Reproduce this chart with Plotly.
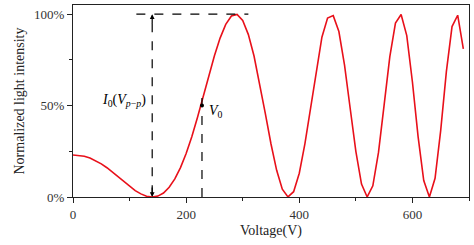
import plotly.graph_objects as go

voltage = [0, 10, 20, 30, 40, 50, 60, 70, 80, 90, 100, 110, 120, 130, 140, 150, 160, 170, 180, 190,
           200, 210, 220, 230, 240, 250, 260, 270, 280, 290, 300, 310, 320, 330, 340, 350, 360, 370,
           380, 390, 400, 410, 420, 430, 440, 450, 460, 470, 480, 490, 500, 510, 520, 530, 540, 550,
           560, 570, 580, 590, 600, 610, 620, 630, 640, 650, 660, 670, 680, 690]
intensity = [23.0, 22.8, 22.3, 21.3, 19.9, 18.1, 16.0, 13.6, 11.0, 8.5, 6.0, 3.5, 1.7, 0.45, 0.0, 0.5, 2.2,
             5.3, 9.9, 16.1, 23.8, 33.0, 43.5, 54.7, 66.2, 77.2, 86.9, 94.4, 99.0, 99.8, 96.5, 88.8,
             77.1, 62.3, 45.6, 29.0, 14.6, 4.3, 0.05, 2.9, 13.0, 29.2, 49.3, 69.6, 87.4, 97.9, 99.2,
             90.5, 72.1, 48.4, 25.0, 7.1, 0.02, 6.1, 24.4, 50.4, 76.6, 95.1, 99.8, 88.3, 62.9, 33.0,
             9.0, 0.0, 10.2, 36.4, 68.6, 93.2, 99.4, 81.0]

x_ticks = [0, 200, 400, 600]
y_ticks = [0, 50, 100]
y_tick_labels = ["0%", "50%", "100%"]

v_pp = 140
v0 = 228
v0_level = 50
top_level = 100
hline_start = 112
hline_end = 310
v0_line_top = 57

fig = go.Figure()
fig.add_trace(go.Scatter(x=voltage, y=intensity, mode="lines",
                         line=dict(color="#e8101a", width=1.6), cliponaxis=False,
                         showlegend=False))
fig.add_trace(go.Scatter(x=[v0], y=[v0_level], mode="markers",
                         marker=dict(color="black", size=4), showlegend=False))

dash = dict(color="black", width=1.2, dash="dash")
fig.add_shape(type="line", x0=hline_start, x1=hline_end, y0=top_level, y1=top_level, line=dash)
fig.add_shape(type="line", x0=v_pp, x1=v_pp, y0=1.5, y1=top_level - 1.5, line=dash)
fig.add_shape(type="line", x0=v0, x1=v0, y0=0, y1=v0_line_top, line=dash)

# arrowheads
fig.add_annotation(x=v_pp, y=top_level, ax=v_pp, ay=top_level - 6, xref="x", yref="y",
                   axref="x", ayref="y", showarrow=True, arrowhead=2, arrowsize=0.8,
                   arrowwidth=1.2, arrowcolor="black", text="")
fig.add_annotation(x=v_pp, y=0, ax=v_pp, ay=6, xref="x", yref="y",
                   axref="x", ayref="y", showarrow=True, arrowhead=2, arrowsize=0.8,
                   arrowwidth=1.2, arrowcolor="black", text="")

fig.add_annotation(x=v_pp - 8, y=v0_level + 3, xref="x", yref="y", xanchor="right",
                   text="<i>I</i><sub>0</sub>(<i>V</i><sub><i>p</i>−<i>p</i></sub>)",
                   showarrow=False, font=dict(family="Liberation Serif", size=14, color="black"))
fig.add_annotation(x=v0 + 8, y=v0_level - 3, xref="x", yref="y", xanchor="left",
                   text="<i>V</i><sub>0</sub>",
                   showarrow=False, font=dict(family="Liberation Serif", size=14, color="black"))

axis_common = dict(showline=True, linecolor="#222", linewidth=1.3, mirror=True,
                   ticks="outside", ticklen=5, tickwidth=1.2, tickcolor="#222",
                   showgrid=False, zeroline=False,
                   tickfont=dict(family="Liberation Serif", size=13, color="#333"))

fig.update_xaxes(range=[0, 700], tickvals=x_ticks,
                 minor=dict(ticks="outside", dtick=100, tick0=0, ticklen=3, tickwidth=1.2, tickcolor="#222"),
                 title=dict(text="Voltage(V)", font=dict(family="Liberation Serif", size=14, color="#222"),
                            standoff=4),
                 **axis_common)
fig.update_yaxes(range=[0, 105], tickvals=y_ticks, ticktext=y_tick_labels,
                 minor=dict(ticks="outside", dtick=25, tick0=0, ticklen=3, tickwidth=1.2, tickcolor="#222"),
                 title=dict(text="Normalized light intensity",
                            font=dict(family="Liberation Serif", size=14, color="#222"), standoff=6),
                 **axis_common)

fig.update_layout(width=474, height=245, margin=dict(l=73, r=5, t=5, b=48),
                  plot_bgcolor="white", paper_bgcolor="white")

fig.write_html("out.html")
